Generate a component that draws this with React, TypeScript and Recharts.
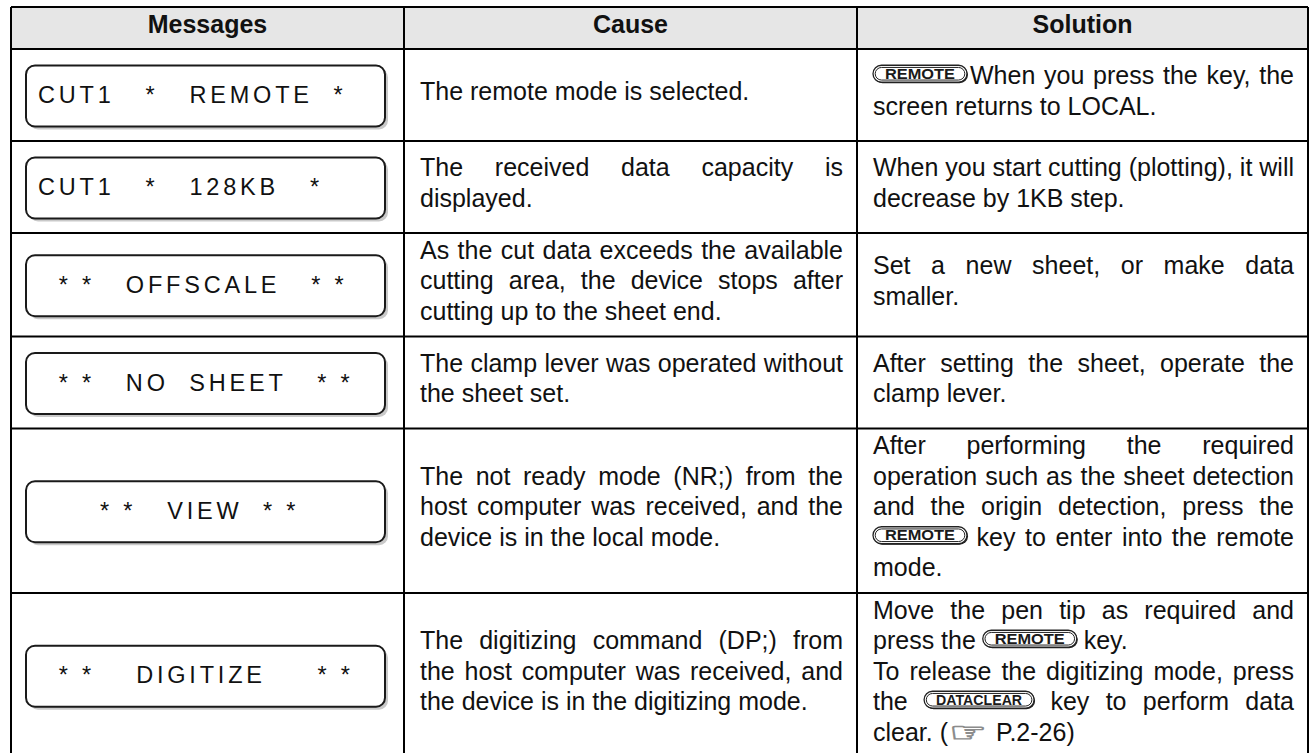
import React from 'react';
import { ComposedChart, XAxis, YAxis, ReferenceArea, ReferenceLine, Scatter } from 'recharts';

// table content
const columns = ['Messages', 'Cause', 'Solution'];

const messages = [
  'CUT1   *   REMOTE  *',
  'CUT1   *   128KB   *',
  '  * *   OFFSCALE   * *',
  '  * *   NO  SHEET   * *',
  '      * *   VIEW  * *',
  '  * *    DIGITIZE     * *',
];

// each cell: paragraphs -> lines (last line of a paragraph is not justified)
const causes = [
  [['The remote mode is selected.']],
  [['The received data capacity is', 'displayed.']],
  [['As the cut data exceeds the available', 'cutting area, the device stops after', 'cutting up to the sheet end.']],
  [['The clamp lever was operated without', 'the sheet set.']],
  [['The not ready mode (NR;) from the', 'host computer was received, and the', 'device is in the local mode.']],
  [['The digitizing command (DP;) from', 'the host computer was received, and', 'the device is in the digitizing mode.']],
];

const solutions = [
  [['[REMOTE]When you press the key, the', 'screen returns to LOCAL.']],
  [['When you start cutting (plotting), it will', 'decrease by 1KB step.']],
  [['Set a new sheet, or make data', 'smaller.']],
  [['After setting the sheet, operate the', 'clamp lever.']],
  [['After performing the required', 'operation such as the sheet detection', 'and the origin detection, press the', '[REMOTE] key to enter into the remote', 'mode.']],
  [
    ['Move the pen tip as required and', 'press the [REMOTE] key.'],
    ['To release the digitizing mode, press', 'the [DATACLEAR] key to perform data', 'clear. ([HAND] P.2-26)'],
  ],
];

// layout
const FONT = 'Liberation Sans';
const FS = 25;
const LH = 30.5;
const HEADER_H = 42;
const MIN_ROW_H = 92;
const PAD_L = 16;
const PAD_R = 14;
const SEG_GAP = 3;
const colWidths = [393, 453, 451];
const tokenWidths: Record<string, number> = { REMOTE: 94, DATACLEAR: 110, HAND: 38 };

const countLines = (cell: string[][]) => cell.reduce((s, p) => s + p.length, 0);

const rowHeights = [
  HEADER_H,
  ...messages.map((_, i) =>
    Math.max(MIN_ROW_H, Math.max(countLines(causes[i]), countLines(solutions[i])) * LH + 12)
  ),
];
const rowEdges = rowHeights.reduce((acc, h) => [...acc, acc[acc.length - 1] + h], [0]);
const colEdges = colWidths.reduce((acc, w) => [...acc, acc[acc.length - 1] + w], [0]);
const TABLE_W = colEdges[colEdges.length - 1];
const TABLE_H = rowEdges[rowEdges.length - 1];
const CHART_W = 1316;
const CHART_H = 760;

const anchors = rowEdges.map((y) => ({ x: 0, y }));

let ctx: CanvasRenderingContext2D | null = null;
function measure(text: string, font = `${FS}px "${FONT}"`) {
  if (!ctx) ctx = document.createElement('canvas').getContext('2d');
  if (!ctx) return text.length * FS * 0.5;
  ctx.font = font;
  return ctx.measureText(text).width;
}

function segWidth(seg: string) {
  const m = seg.match(/^\[([A-Z]+)\]$/);
  return m ? tokenWidths[m[1]] : measure(seg);
}

function KeyCap({ x, baseline, label, w }: { x: number; baseline: number; label: string; w: number }) {
  const h = 17;
  const top = baseline - 19;
  return (
    <g>
      <rect x={x + 1} y={top + 1} width={w} height={h} rx={h / 2} fill="#222" />
      <rect x={x} y={top} width={w} height={h} rx={h / 2} fill="#fff" stroke="#222" strokeWidth={1.3} />
      <rect x={x + 2.2} y={top + 2.2} width={w - 4.4} height={h - 4.4} rx={(h - 4.4) / 2} fill="#fff" stroke="#222" strokeWidth={1} />
      <text
        x={x + w / 2}
        y={top + h - 3.3}
        textAnchor="middle"
        fontFamily={FONT}
        fontWeight="bold"
        fontSize={15}
        fill="#1a1a1a"
        textLength={w - 24}
        lengthAdjust="spacingAndGlyphs"
      >
        {label}
      </text>
    </g>
  );
}

function renderSegment(seg: string, x: number, baseline: number, key: string) {
  const m = seg.match(/^\[([A-Z]+)\]$/);
  if (m && m[1] === 'HAND') {
    return (
      <text key={key} x={x - 2} y={baseline + 1} fontFamily="DejaVu Sans" fontSize={28} fill="#fff" stroke="#8c8c8c" strokeWidth={0.9} textLength={tokenWidths.HAND} lengthAdjust="spacingAndGlyphs">
        ☞
      </text>
    );
  }
  if (m) return <KeyCap key={key} x={x} baseline={baseline} label={m[1]} w={tokenWidths[m[1]]} />;
  return (
    <text key={key} x={x} y={baseline} fontFamily={FONT} fontSize={FS} fill="#111">
      {seg}
    </text>
  );
}

function renderTextCell(cell: string[][], x: number, y: number, w: number, h: number) {
  const lines: { text: string; justify: boolean }[] = [];
  cell.forEach((p) => p.forEach((t, i) => lines.push({ text: t, justify: i < p.length - 1 })));
  const avail = w - PAD_L - PAD_R;
  const first = y + h / 2 - (lines.length * LH) / 2 + 19.75;
  const spaceW = measure(' ');
  const out: React.ReactNode[] = [];
  lines.forEach((ln, li) => {
    const baseline = first + li * LH;
    const words = ln.text.split(' ').map((wd) => {
      const segs = wd.split(/(\[[A-Z]+\])/).filter(Boolean);
      const ww = segs.reduce((s, sg) => s + segWidth(sg), 0) + (segs.length - 1) * SEG_GAP;
      return { segs, ww };
    });
    const total = words.reduce((s, wd) => s + wd.ww, 0);
    const gap = ln.justify && words.length > 1 ? (avail - total) / (words.length - 1) : spaceW;
    let cx = x + PAD_L;
    words.forEach((wd, wi) => {
      let sx = cx;
      wd.segs.forEach((sg, si) => {
        out.push(renderSegment(sg, sx, baseline, `${li}-${wi}-${si}`));
        sx += segWidth(sg) + SEG_GAP;
      });
      cx += wd.ww + gap;
    });
  });
  return <g>{out}</g>;
}

function makeShape(row: number, col: number) {
  return (props: any) => {
    const { x, y, width, height } = props;
    if (row === 0) {
      return (
        <g>
          <rect x={x} y={y} width={width} height={height} fill="#e6e6e6" />
          <text x={x + width / 2} y={y + height / 2 + 4.5} textAnchor="middle" fontFamily={FONT} fontWeight="bold" fontSize={FS} fill="#111">
            {columns[col]}
          </text>
        </g>
      );
    }
    const i = row - 1;
    if (col === 0) {
      const bx = x + 15;
      const bw = width - 34;
      const bh = 61;
      const by = y + height / 2 + 1 - bh / 2;
      return (
        <g>
          <rect x={bx + 3} y={by + 3} width={bw} height={bh} rx={9} fill="#c9c9c9" />
          <rect x={bx} y={by} width={bw} height={bh} rx={9} fill="#fff" stroke="#1a1a1a" strokeWidth={2} />
          <text
            x={bx + 12}
            y={by + bh / 2 + 7}
            fontFamily={FONT}
            fontSize={23.5}
            fill="#111"
            xmlSpace="preserve"
            style={{ whiteSpace: 'pre', letterSpacing: 3.8 }}
          >
            {messages[i]}
          </text>
        </g>
      );
    }
    return renderTextCell(col === 1 ? causes[i] : solutions[i], x, y, width, height);
  };
}

export default function App() {
  const cells: React.ReactNode[] = [];
  rowHeights.forEach((_, r) =>
    colWidths.forEach((__, c) =>
      cells.push(
        <ReferenceArea
          key={`cell-${r}-${c}`}
          x1={colEdges[c]}
          x2={colEdges[c + 1]}
          y1={rowEdges[r]}
          y2={rowEdges[r + 1]}
          ifOverflow="visible"
          shape={makeShape(r, c)}
        />
      )
    )
  );

  return (
    <div style={{ position: 'fixed', left: 0, top: 0, width: CHART_W, height: 753, overflow: 'hidden', background: '#fff' }}>
      <ComposedChart
        width={CHART_W}
        height={CHART_H}
        data={anchors}
        margin={{ top: 7, left: 11, right: CHART_W - 11 - TABLE_W, bottom: CHART_H - 7 - TABLE_H }}
      >
        <XAxis type="number" dataKey="x" domain={[0, TABLE_W]} allowDataOverflow hide />
        <YAxis type="number" dataKey="y" domain={[0, TABLE_H]} allowDataOverflow reversed hide />
        <Scatter dataKey="y" isAnimationActive={false} shape={() => <g />} />
        {cells}
        {rowEdges.map((y) => (
          <ReferenceLine key={`h-${y}`} y={y} stroke="#000" strokeWidth={2} ifOverflow="visible" />
        ))}
        {colEdges.map((x) => (
          <ReferenceLine key={`v-${x}`} x={x} stroke="#000" strokeWidth={2} ifOverflow="visible" />
        ))}
      </ComposedChart>
    </div>
  );
}
